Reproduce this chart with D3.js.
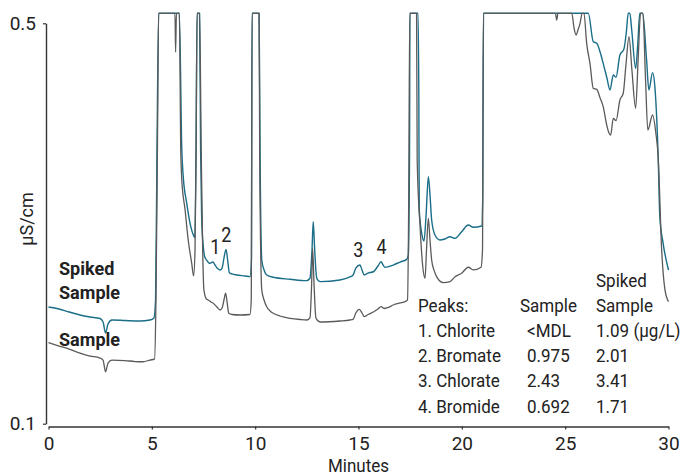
<!DOCTYPE html>
<html>
<head>
<meta charset="utf-8">
<script src="https://cdn.jsdelivr.net/npm/d3@7"></script>
<style>
  html, body { margin: 0; padding: 0; background: #fff; }
  svg text { font-family: Roboto, "Liberation Sans", sans-serif; fill: #222; }
</style>
</head>
<body>
<svg id="chart" width="681" height="476"></svg>
<script>
// ---- Data (time in minutes, conductivity in µS/cm; detector saturates ~0.51) ----
const spikedTime = [0,0.51,1.0,1.52,2.01,2.49,2.64,2.76,2.88,3.07,3.70,4.43,4.91,5.10,5.18,5.25,5.33,6.33,6.45,6.52,6.69,6.85,7.01,7.08,7.14,7.19,7.31,7.36,7.41,7.49,7.56,7.65,7.81,7.95,8.06,8.17,8.30,8.40,8.49,8.59,8.68,8.75,8.88,9.11,9.51,9.75,9.82,9.85,10.19,10.24,10.32,10.43,10.56,10.88,11.69,12.49,12.65,12.75,12.81,12.88,12.98,13.14,14.10,14.58,14.74,14.87,15.07,15.17,15.28,15.46,15.72,15.94,16.09,16.19,16.28,16.68,17.01,17.33,17.41,17.47,17.49,17.88,17.92,17.94,18.06,18.17,18.27,18.38,18.46,18.54,18.70,18.94,19.18,19.43,19.67,19.99,20.31,20.55,20.96,21.01,21.05,26.12,26.36,26.53,26.69,26.84,27.02,27.17,27.33,27.46,27.65,27.84,27.97,28.05,28.13,28.22,28.41,28.51,28.61,28.75,28.94,29.05,29.23,29.34,29.50,29.58,29.74,30.0];
const spikedValue = [0.2166,0.2146,0.2116,0.2086,0.2066,0.2051,0.2016,0.1906,0.1996,0.2036,0.2031,0.2026,0.2036,0.2056,0.2236,0.3734,0.51,0.51,0.3734,0.3468,0.3202,0.3002,0.2885,0.2860,0.3734,0.51,0.51,0.3734,0.3068,0.2768,0.2668,0.2635,0.2602,0.2615,0.2585,0.2552,0.2536,0.2555,0.2655,0.2742,0.2615,0.2508,0.2496,0.2486,0.2476,0.2469,0.2635,0.51,0.51,0.3634,0.2635,0.2536,0.2486,0.2463,0.2443,0.2429,0.2453,0.2735,0.3018,0.2735,0.2453,0.2419,0.2436,0.2466,0.2486,0.2555,0.2585,0.2536,0.2486,0.2505,0.2518,0.2575,0.2618,0.2585,0.2562,0.2585,0.2615,0.2642,0.2685,0.3734,0.51,0.51,0.4233,0.3134,0.2902,0.2825,0.3085,0.3468,0.3285,0.3035,0.2885,0.2835,0.2845,0.2868,0.2852,0.2918,0.2985,0.2962,0.2975,0.3235,0.51,0.51,0.4816,0.48,0.4713,0.46,0.4454,0.4334,0.4484,0.4461,0.4683,0.474,0.4933,0.51,0.51,0.4933,0.455,0.4783,0.51,0.51,0.4633,0.4334,0.4507,0.4367,0.3667,0.3068,0.2802,0.2535];

const sampleTime = [0,0.51,1.0,1.52,2.01,2.49,2.64,2.76,2.88,3.07,3.70,4.19,4.57,4.91,5.13,5.20,5.27,5.33,6.12,6.15,6.19,6.33,6.40,6.45,6.61,6.76,6.93,7.02,7.09,7.14,7.19,7.31,7.39,7.46,7.52,7.65,7.73,7.86,7.97,8.15,8.30,8.40,8.49,8.57,8.66,8.72,8.88,9.27,9.75,9.81,9.85,10.19,10.22,10.32,10.43,10.56,10.72,10.88,11.20,11.69,12.17,12.51,12.65,12.73,12.78,12.85,12.94,13.14,14.10,14.58,14.74,14.87,15.04,15.17,15.28,15.46,15.72,15.94,16.09,16.24,16.38,16.68,17.01,17.25,17.37,17.43,17.48,17.81,17.84,17.98,18.11,18.22,18.29,18.38,18.46,18.54,18.65,18.78,19.10,19.43,19.67,19.99,20.31,20.55,20.93,21.00,21.04,24.53,24.59,24.65,25.32,25.43,25.53,25.62,25.72,25.82,25.91,26.04,26.20,26.36,26.53,26.69,26.84,27.01,27.10,27.20,27.33,27.46,27.65,27.81,27.94,28.09,28.23,28.41,28.53,28.65,28.76,28.89,29.00,29.23,29.39,29.50,29.67,29.83,30.0];
const sampleValue = [0.1809,0.1776,0.1746,0.1706,0.1676,0.1656,0.1636,0.1519,0.1606,0.1636,0.1631,0.1621,0.1619,0.1636,0.1646,0.2236,0.3734,0.51,0.51,0.4713,0.51,0.51,0.3734,0.3435,0.3135,0.2835,0.2602,0.2476,0.2735,0.3734,0.51,0.51,0.3734,0.2735,0.2336,0.2243,0.2236,0.2216,0.2203,0.2166,0.2136,0.2156,0.2236,0.2303,0.2186,0.2103,0.2091,0.2086,0.2091,0.2236,0.51,0.51,0.3634,0.2336,0.2236,0.2169,0.2126,0.2103,0.2076,0.2053,0.2041,0.2036,0.2056,0.2386,0.2752,0.2386,0.2056,0.2016,0.2026,0.2036,0.2043,0.2106,0.2143,0.2106,0.2069,0.2091,0.2116,0.2146,0.2169,0.2151,0.2156,0.2186,0.2206,0.2219,0.2236,0.3235,0.51,0.51,0.3634,0.2968,0.2568,0.2453,0.2735,0.3052,0.2835,0.2635,0.2536,0.2469,0.2409,0.2419,0.2469,0.2503,0.2563,0.2536,0.2563,0.2735,0.51,0.51,0.5033,0.51,0.51,0.4953,0.4883,0.4933,0.5,0.51,0.51,0.48,0.46,0.435,0.434,0.4254,0.4167,0.3984,0.3914,0.3884,0.4051,0.4027,0.4234,0.4301,0.4584,0.4866,0.4533,0.4151,0.4633,0.51,0.51,0.4434,0.3934,0.4084,0.3901,0.3667,0.2735,0.2336,0.2219];

const xTicks = [0, 5, 10, 15, 20, 25, 30];
const yTicks = [0.1, 0.5];

const peakLabels = ["1", "2", "3", "4"];
const peakTimes = [8.07, 8.60, 14.99, 16.11];
const peakLabelValues = [0.2695, 0.2820, 0.2665, 0.2695];

const tablePeaks = ["1. Chlorite", "2. Bromate", "3. Chlorate", "4. Bromide"];
const tableSample = ["<MDL", "0.975", "2.43", "0.692"];
const tableSpiked = ["1.09 (µg/L)", "2.01", "3.41", "1.71"];

// ---- Drawing ----
const svg = d3.select("#chart");
const x = d3.scaleLinear().domain([0, 30]).range([48.5, 668.5]);
const y = d3.scaleLinear().domain([0.1, 0.5]).range([423.7, 23.3]);

const line = d3.line().x(d => x(d[0])).y(d => y(d[1])).curve(d3.curveMonotoneX);
const spiked = spikedTime.map((t, i) => [t, spikedValue[i]]);
const sample = sampleTime.map((t, i) => [t, sampleValue[i]]);

svg.append("path").attr("d", line(spiked)).attr("fill", "none")
  .attr("stroke", "#1a6e88").attr("stroke-width", 1.4).attr("stroke-linejoin", "round");
svg.append("path").attr("d", line(sample)).attr("fill", "none")
  .attr("stroke", "#5a5a5a").attr("stroke-width", 1.3).attr("stroke-linejoin", "round");

// Axes
const yAxis = svg.append("g").attr("transform", "translate(46,0)")
  .call(d3.axisLeft(y).tickValues(yTicks).tickSize(3).tickSizeOuter(0).tickPadding(7).tickFormat(d3.format(".1f")));
const xAxis = svg.append("g").attr("transform", "translate(0,426.5)")
  .call(d3.axisBottom(x).tickValues(xTicks).tickSize(3).tickSizeOuter(0).tickPadding(7));
[yAxis, xAxis].forEach(g => {
  g.select(".domain").attr("stroke", "#333").attr("stroke-width", 1.4);
  g.selectAll(".tick line").attr("stroke", "#333").attr("stroke-width", 1.2);
  g.selectAll("text").attr("font-size", 19).attr("font-family", "Roboto, sans-serif").attr("fill", "#222");
});

// condensed text helper
function label(px, py, str, opts = {}) {
  const sx = opts.sx || 0.92;
  const t = svg.append("text")
    .attr("transform", `translate(${px},${py}) scale(${sx},1)`)
    .attr("font-size", opts.size || 18.5)
    .attr("font-weight", opts.weight || "normal")
    .attr("text-anchor", opts.anchor || "start")
    .text(str);
  return t;
}

svg.append("text").attr("transform", "translate(33,219) rotate(-90)")
  .attr("text-anchor", "middle").attr("font-size", 18).text("µS/cm");
label(358.5, 472, "Minutes", {anchor: "middle", size: 18.5});

// Trace labels
label(59, 275, "Spiked", {weight: "bold", size: 19, sx: 0.95});
label(59, 299, "Sample", {weight: "bold", size: 19, sx: 0.95});
label(59, 346, "Sample", {weight: "bold", size: 19, sx: 0.95});

// Peak labels
peakLabels.forEach((d, i) => {
  label(x(peakTimes[i]), y(peakLabelValues[i]), d, {anchor: "middle", size: 19.5});
});

// Table
const tx1 = 418, tx2 = 520, tx3 = 596, ty0 = 311.7, rowH = 25.2;
label(tx3, 286.5, "Spiked");
label(tx1, ty0, "Peaks:");
label(tx2, ty0, "Sample");
label(tx3, ty0, "Sample");
tablePeaks.forEach((p, i) => {
  const yy = ty0 + rowH * (i + 1);
  label(tx1, yy, p);
  label(tx2 + 7, yy, tableSample[i]);
  label(tx3, yy, tableSpiked[i]);
});
</script>
</body>
</html>
